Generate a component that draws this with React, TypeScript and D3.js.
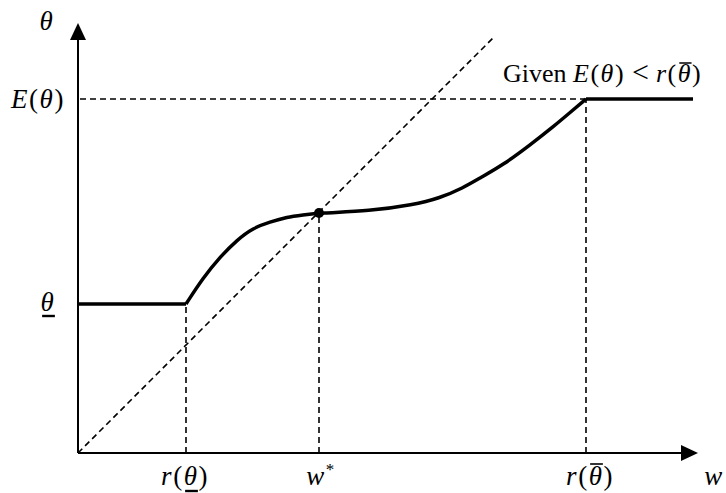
import React, { useLayoutEffect, useRef, useState } from 'react';
import * as d3 from 'd3';

// schematic values (w on x, theta on y)
const curveW = [108, 125, 142, 159, 175, 192, 209, 225, 241, 292, 335, 362, 385, 402, 425, 452, 475, 495, 508];
const curveTheta = [149, 175, 196, 213, 225, 231, 236, 238, 240, 242, 248, 255, 265, 275, 288, 308, 326, 343, 354];
const thetaLow = 149;
const thetaE = 354;
const rLow = 108;
const wStar = 241;
const rHigh = 508;
const wEnd = 615;
const diagEnd = 416;

const width = 726;
const height = 493;

const mathFont = '"Liberation Serif", "DejaVu Serif", serif';

type Bar = { x1: number; x2: number; y: number };

// bar over/under the last theta in a text element
const thetaBar = (el: SVGTextElement | null, yOff: number): Bar | null => {
  if (!el) return null;
  const s = el.textContent || '';
  const i = s.lastIndexOf('θ');
  if (i < 0) return null;
  const b = el.getExtentOfChar(i);
  const base = el.getStartPositionOfChar(i).y;
  return { x1: b.x + 1.5, x2: b.x + b.width - 0.5, y: base + yOff };
};

const App = () => {
  const x = d3.scaleLinear().domain([0, 620]).range([78, 698]);
  const y = d3.scaleLinear().domain([0, 430]).range([453, 23]);

  const curvePts: [number, number][] = curveW.map((w, i) => [x(w), y(curveTheta[i])]);
  const curve = d3.line().curve(d3.curveBasis)(curvePts) || '';
  const flat = d3.line();
  const starTheta = curveTheta[curveW.indexOf(wStar)];

  const lowRef = useRef<SVGTextElement>(null);
  const rLowRef = useRef<SVGTextElement>(null);
  const rHighRef = useRef<SVGTextElement>(null);
  const givenRef = useRef<SVGTextElement>(null);
  const [bars, setBars] = useState<{ b: Bar; w: number }[]>([]);

  useLayoutEffect(() => {
    const out: { b: Bar; w: number }[] = [];
    const a = thetaBar(lowRef.current, 5);
    const b = thetaBar(rLowRef.current, 6);
    const c = thetaBar(rHighRef.current, -21);
    const d = thetaBar(givenRef.current, -19);
    if (a) out.push({ b: a, w: 2.4 });
    if (b) out.push({ b: b, w: 2.4 });
    if (c) out.push({ b: c, w: 1.6 });
    if (d) out.push({ b: d, w: 1.5 });
    setBars(out);
  }, []);

  const dash = '6,4';
  const x0 = x(0);
  const y0 = y(0);

  return (
    <svg width={width} height={height} style={{ position: 'absolute', left: 0, top: 0, background: '#fff' }}>
      {/* dashed guides */}
      <g stroke="#000" strokeWidth={1.6} strokeDasharray={dash} fill="none">
        <line x1={x0} y1={y0} x2={x(diagEnd)} y2={y(diagEnd)} />
        <line x1={x0 + 2} y1={y(thetaE)} x2={x(rHigh)} y2={y(thetaE)} />
        <line x1={x(rLow)} y1={y0} x2={x(rLow)} y2={y(thetaLow)} />
        <line x1={x(wStar)} y1={y0} x2={x(wStar)} y2={y(starTheta)} />
        <line x1={x(rHigh)} y1={y0} x2={x(rHigh)} y2={y(thetaE)} />
      </g>

      {/* axes */}
      <g stroke="#000" strokeWidth={2}>
        <line x1={x0} y1={y0} x2={x0} y2={y(413)} />
        <line x1={x0} y1={y0} x2={x(605)} y2={y0} />
      </g>
      <path d={`M${x0},${y(430)} L${x0 - 8},${y(413)} L${x0 + 8},${y(413)} Z`} fill="#000" />
      <path d={`M${x(620)},${y0} L${x(603)},${y0 - 8} L${x(603)},${y0 + 8} Z`} fill="#000" />

      {/* theta(w) */}
      <g stroke="#000" strokeWidth={3.5} fill="none" strokeLinejoin="round">
        <path d={flat([[x0 + 1, y(thetaLow)], [x(rLow), y(thetaLow)]]) || ''} />
        <path d={curve} />
        <path d={flat([[x(rHigh), y(thetaE)], [x(wEnd), y(thetaE)]]) || ''} />
      </g>
      <circle cx={x(wStar)} cy={y(starTheta)} r={5} fill="#000" />

      {/* labels */}
      <g fontFamily={mathFont} fontSize={27} fill="#000" letterSpacing={1.5}>
        <text x={47} y={30} textAnchor="middle" fontStyle="italic">θ</text>
        <text x={38} y={108} textAnchor="middle">
          <tspan fontStyle="italic">E</tspan>(<tspan fontStyle="italic">θ</tspan>)
        </text>
        <text ref={lowRef} x={48} y={311} textAnchor="middle" fontStyle="italic">θ</text>

        <text ref={rLowRef} x={x(rLow) - 1} y={485} textAnchor="middle">
          <tspan fontStyle="italic">r</tspan>(<tspan fontStyle="italic">θ</tspan>)
        </text>
        <text x={x(wStar) + 2} y={485} textAnchor="middle">
          <tspan fontStyle="italic">w</tspan>
          <tspan fontSize={17} dy={-10}>*</tspan>
        </text>
        <text ref={rHighRef} x={x(rHigh) + 4} y={485} textAnchor="middle">
          <tspan fontStyle="italic">r</tspan>(<tspan fontStyle="italic">θ</tspan>)
        </text>
        <text x={714} y={485} textAnchor="middle" fontStyle="italic">w</text>

        <text ref={givenRef} x={503} y={82} fontSize={26} letterSpacing={0}>
          Given <tspan letterSpacing={1.5}><tspan fontStyle="italic">E</tspan>(<tspan fontStyle="italic">θ</tspan>)</tspan>
          <tspan dx={7} fontSize={30}>&lt;</tspan>
          <tspan dx={7} letterSpacing={1.5}><tspan fontStyle="italic">r</tspan>(<tspan fontStyle="italic">θ</tspan>)</tspan>
        </text>
      </g>
      <g stroke="#000">
        {bars.map((d, i) => (
          <line key={i} x1={d.b.x1} x2={d.b.x2} y1={d.b.y} y2={d.b.y} strokeWidth={d.w} />
        ))}
      </g>
    </svg>
  );
};

export default App;
